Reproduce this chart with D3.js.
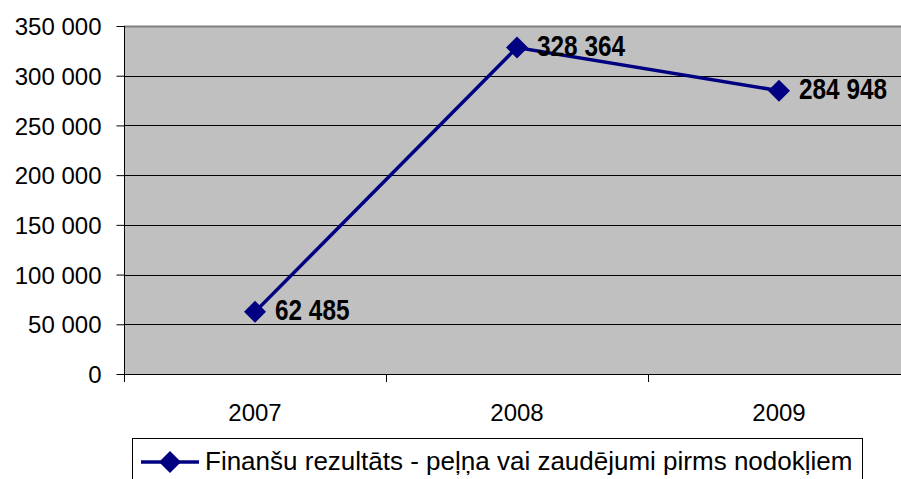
<!DOCTYPE html>
<html>
<head>
<meta charset="utf-8">
<script src="https://cdn.jsdelivr.net/npm/d3@7"></script>
<style>
  body { margin: 0; background: #fff; }
  svg { display: block; }
  .tick text { font-family: Arial, "Liberation Sans", sans-serif; font-size: 24px; fill: #000; }
</style>
</head>
<body>
<div id="chart"></div>
<script>
var years = ['2007', '2008', '2009'];
var values = [62485, 328364, 284948];
var yTicks = [0, 50000, 100000, 150000, 200000, 250000, 300000, 350000];
var seriesName = 'Finanšu rezultāts - peļņa vai zaudējumi pirms nodokļiem';

var W = 901, H = 479;
var plotLeft = 124, plotTop = 26, plotW = 786, plotH = 348;

var svg = d3.select('#chart').append('svg').attr('width', W).attr('height', H);

var x = d3.scaleBand().domain(years).range([plotLeft, plotLeft + plotW]);
var y = d3.scaleLinear().domain([0, 350000]).range([plotTop + plotH, plotTop]);

var fmt = function(v) { return d3.format(',')(v).replace(/,/g, ' '); };

// plot background
svg.append('rect').attr('x', plotLeft).attr('y', plotTop).attr('width', plotW).attr('height', plotH)
  .attr('fill', '#c0c0c0');
svg.append('line').attr('x1', plotLeft).attr('x2', plotLeft + plotW).attr('y1', plotTop + 0.5).attr('y2', plotTop + 0.5)
  .attr('stroke', '#808080').attr('stroke-width', 2);

// gridlines
svg.append('g').selectAll('line').data(yTicks.filter(function(d) { return d > 0 && d < 350000; }))
  .enter().append('line')
  .attr('x1', plotLeft).attr('x2', plotLeft + plotW)
  .attr('y1', function(d) { return Math.round(y(d)) + 0.5; })
  .attr('y2', function(d) { return Math.round(y(d)) + 0.5; })
  .attr('stroke', '#000').attr('stroke-width', 1);

// y axis
var yAxis = svg.append('g').attr('transform', 'translate(' + (plotLeft + 0.5) + ',0)')
  .call(d3.axisLeft(y).tickValues(yTicks).tickFormat(fmt).tickSize(8).tickPadding(15));
yAxis.select('.domain').attr('stroke', '#000').attr('d', 'M0,' + plotTop + 'V' + (plotTop + plotH));
yAxis.selectAll('.tick line').attr('stroke', '#000');
yAxis.selectAll('.tick text').attr('dy', '0.36em');

// x axis
var xAxis = svg.append('g').attr('transform', 'translate(0,' + (plotTop + plotH + 0.5) + ')')
  .call(d3.axisBottom(x).tickSize(0).tickPadding(29));
xAxis.select('.domain').attr('stroke', '#000').attr('d', 'M' + plotLeft + ',0H' + (plotLeft + plotW));
xAxis.selectAll('.tick text').attr('dy', '0.71em');
svg.append('g').selectAll('line').data(years.concat(['end']))
  .enter().append('line')
  .attr('x1', function(d, i) { return Math.round(plotLeft + i * x.bandwidth()) + 0.5; })
  .attr('x2', function(d, i) { return Math.round(plotLeft + i * x.bandwidth()) + 0.5; })
  .attr('y1', plotTop + plotH).attr('y2', plotTop + plotH + 8)
  .attr('stroke', '#000');

// series
var cx = function(d, i) { return x(years[i]) + x.bandwidth() / 2; };
var line = d3.line().x(function(d, i) { return cx(d, i); }).y(function(d) { return y(d); });
svg.append('path').datum(values).attr('d', line)
  .attr('fill', 'none').attr('stroke', '#000080').attr('stroke-width', 3.5);

var diamond = 'M0,-11L11,0L0,11L-11,0Z';
svg.append('g').selectAll('path').data(values).enter().append('path')
  .attr('d', diamond)
  .attr('transform', function(d, i) { return 'translate(' + cx(d, i) + ',' + y(d) + ')'; })
  .attr('fill', '#000080');

// data labels, narrow bold look
svg.append('g').selectAll('text').data(values).enter().append('text')
  .attr('x', function(d, i) { return cx(d, i) + 20; })
  .attr('y', function(d) { return y(d) + 8; })
  .attr('font-family', '"Liberation Sans Narrow", "Arial Narrow", Arial, sans-serif')
  .attr('font-weight', 'bold').attr('font-size', 29)
  .attr('fill', '#000')
  .text(fmt)
  .each(function() {
    var len = this.getComputedTextLength();
    if (len > 0) d3.select(this).attr('textLength', len * 0.84).attr('lengthAdjust', 'spacingAndGlyphs');
  });

// legend
var lg = svg.append('g');
lg.append('rect').attr('x', 132.5).attr('y', 438.5).attr('width', 730).attr('height', 60)
  .attr('fill', '#fff').attr('stroke', '#000');
lg.append('line').attr('x1', 141).attr('x2', 199).attr('y1', 462).attr('y2', 462)
  .attr('stroke', '#000080').attr('stroke-width', 3.5);
lg.append('path').attr('d', diamond).attr('transform', 'translate(170,462)').attr('fill', '#000080');
lg.append('text').attr('x', 205).attr('y', 470)
  .attr('font-family', 'Arial, "Liberation Sans", sans-serif').attr('font-size', 26)
  .text(seriesName);
</script>
</body>
</html>
